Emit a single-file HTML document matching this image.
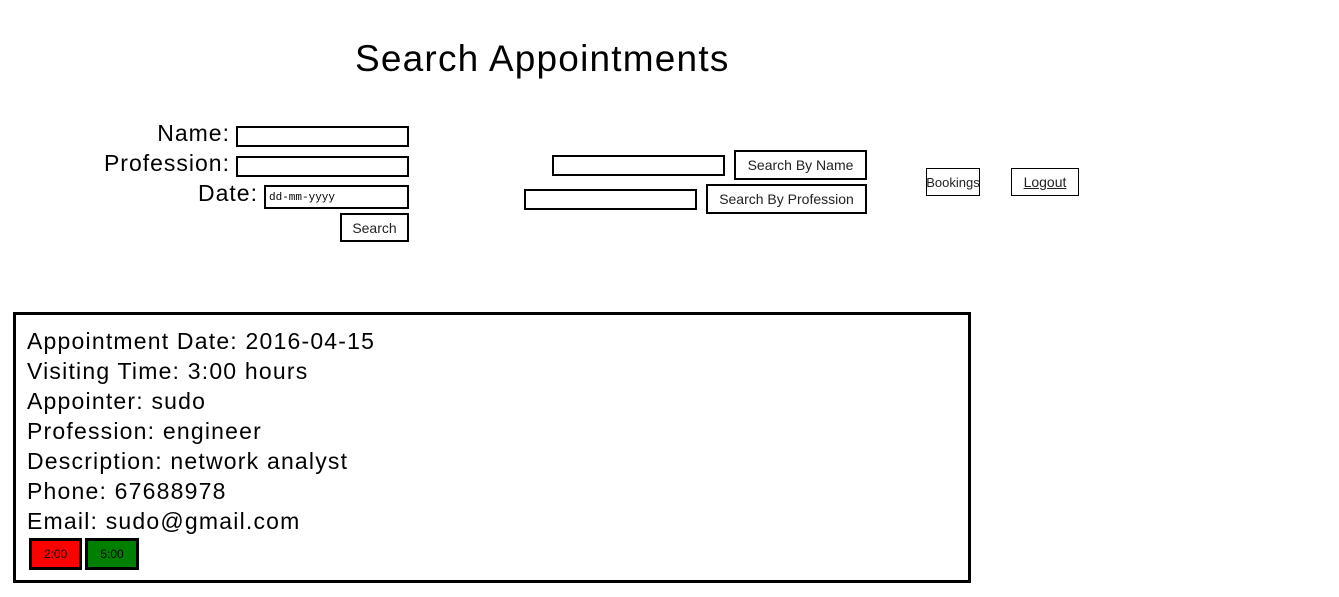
<!DOCTYPE html>
<html><head><style>
body{margin:0;width:1339px;height:597px;background:#fff;font-family:"Liberation Sans",sans-serif;color:#000;position:relative;overflow:hidden}
.a{position:absolute}
.in{position:absolute;border:2px solid #000;box-sizing:border-box;background:#fff}
.bt{position:absolute;border:2px solid #000;box-sizing:border-box;font-size:14px;display:flex;align-items:center;justify-content:center;background:#fff;color:#222;white-space:nowrap}
.lb{position:absolute;font-size:23px;text-align:right;width:200px;letter-spacing:1px}
.ln{position:absolute;left:27px;font-size:23px;white-space:nowrap;letter-spacing:1.2px}
</style></head><body>
<div class="a" style="left:355px;top:38px;font-size:37px;white-space:nowrap;letter-spacing:1.2px">Search Appointments</div>
<div class="lb" style="left:30px;top:120px">Name:</div>
<div class="lb" style="left:30px;top:150px">Profession:</div>
<div class="lb" style="left:58px;top:180px">Date:</div>
<div class="in" style="left:236px;top:126px;width:173px;height:21px"></div>
<div class="in" style="left:236px;top:156px;width:173px;height:21px"></div>
<div class="in" style="left:264px;top:185px;width:145px;height:24px;font-family:'Liberation Mono',monospace;font-size:11px;padding:5px 0 0 3px">dd-mm-yyyy</div>
<div class="bt" style="left:340px;top:213px;width:69px;height:29px">Search</div>
<div class="in" style="left:552px;top:155px;width:173px;height:21px"></div>
<div class="bt" style="left:734px;top:150px;width:133px;height:30px">Search By Name</div>
<div class="in" style="left:524px;top:189px;width:173px;height:21px"></div>
<div class="bt" style="left:706px;top:184px;width:161px;height:30px">Search By Profession</div>
<div class="bt" style="left:926px;top:168px;width:54px;height:28px;border-width:1px;font-size:13px">Bookings</div>
<div class="bt" style="left:1011px;top:168px;width:68px;height:28px;border-width:1px;text-decoration:underline">Logout</div>
<div class="a" style="left:13px;top:312px;width:958px;height:271px;border:3px solid #000;box-sizing:border-box"></div>
<div class="ln" style="top:328px">Appointment Date: 2016-04-15</div>
<div class="ln" style="top:358px">Visiting Time: 3:00 hours</div>
<div class="ln" style="top:388px">Appointer: sudo</div>
<div class="ln" style="top:418px">Profession: engineer</div>
<div class="ln" style="top:448px">Description: network analyst</div>
<div class="ln" style="top:478px">Phone: 67688978</div>
<div class="ln" style="top:508px">Email: sudo@gmail.com</div>
<div class="bt" style="left:29px;top:538px;width:53px;height:32px;border-width:3px;background:#f00;color:#000;font-size:12px">2:00</div>
<div class="bt" style="left:85px;top:538px;width:54px;height:32px;border-width:3px;background:#008000;color:#000;font-size:12px">5:00</div>
</body></html>
